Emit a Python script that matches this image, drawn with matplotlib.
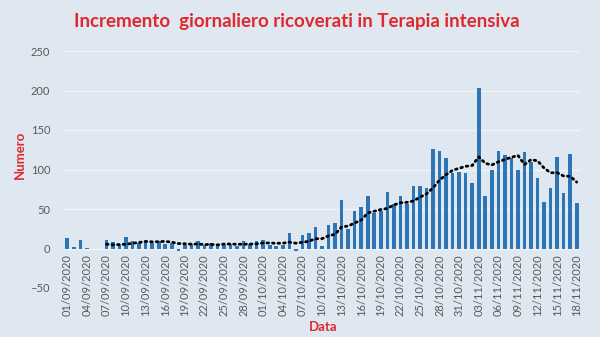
import matplotlib
matplotlib.use("Agg")
import matplotlib.pyplot as plt
import numpy as np
import pandas as pd

# daily change of ICU patients, 01/09/2020 .. 18/11/2020
dates = pd.date_range("2020-09-01", "2020-11-18", freq="D")
sep_values = [13, 2, 11, 1, 0, 0, 11, 8, 4, 14, 9, 7, 10, 7, 10, 6, 7, -3, 5, 6,
              9, 5, 7, 3, 4, 6, 3, 10, 6, 9]
oct_values = [11, 4, 3, 4, 19, -3, 17, 20, 27, 3, 30, 32, 62, 25, 47, 52, 67, 45, 47, 72,
              56, 66, 56, 79, 79, 76, 126, 124, 114, 95, 97]
nov_values = [96, 83, 203, 67, 99, 123, 118, 115, 100, 122, 110, 89, 59, 76, 116, 70, 120, 58]
values = np.array(sep_values + oct_values + nov_values, dtype=float)

# 7-day moving average trend line
trend = pd.Series(values).rolling(7).mean()

labels = [d.strftime("%d/%m/%Y") for d in dates]
tick_step = 3

bg = "#dfe7f1"
bar_color = "#2e75b6"
red = "#e0282e"
text_gray = "#595959"

plt.rcParams["font.family"] = ["Lato", "DejaVu Sans"]

fig = plt.figure(figsize=(6, 3.37), dpi=100, facecolor=bg)
ax = fig.add_axes([64 / 600, 1 - 288 / 337, (580 - 64) / 600, (288 - 51) / 337])
ax.set_facecolor(bg)

x = np.arange(len(values))
ax.bar(x, values, width=0.55, color=bar_color, zorder=3)
ax.plot(x, trend, color="black", linewidth=2, linestyle=(0, (0.6, 1.4)),
        dash_capstyle="round", zorder=4)

# category labels sit next to the zero line, as in the spreadsheet chart
ax.spines["bottom"].set_position(("data", 0))
for spine in ax.spines.values():
    spine.set_visible(False)

ax.set_xlim(-0.5, len(values) - 0.5)
ax.set_ylim(-50, 250)
ax.set_yticks(np.arange(-50, 251, 50))
ax.set_xticks(x[::tick_step])
ax.set_xticklabels(labels[::tick_step], fontsize=8, color=text_gray)
ax.tick_params(axis="x", length=0, pad=4, labelrotation=90)
ax.tick_params(axis="y", labelsize=8, labelcolor=text_gray, length=0, pad=10)
ax.grid(True, axis="y", color="#f1f4f8", linewidth=0.9, zorder=0)

fig.text(0.495, 0.935, "Incremento  giornaliero ricoverati in Terapia intensiva",
         ha="center", va="center", fontsize=13.5, fontweight="bold", color=red)
fig.text(20 / 600, 1 - 155 / 337, "Numero", rotation=90, ha="center", va="center",
         fontsize=9.5, fontweight="bold", color=red)
fig.text(323 / 600, 1 - 327 / 337, "Data", ha="center", va="center",
         fontsize=9.5, fontweight="bold", color=red)

fig.savefig("out.png", dpi=100, facecolor=bg)
